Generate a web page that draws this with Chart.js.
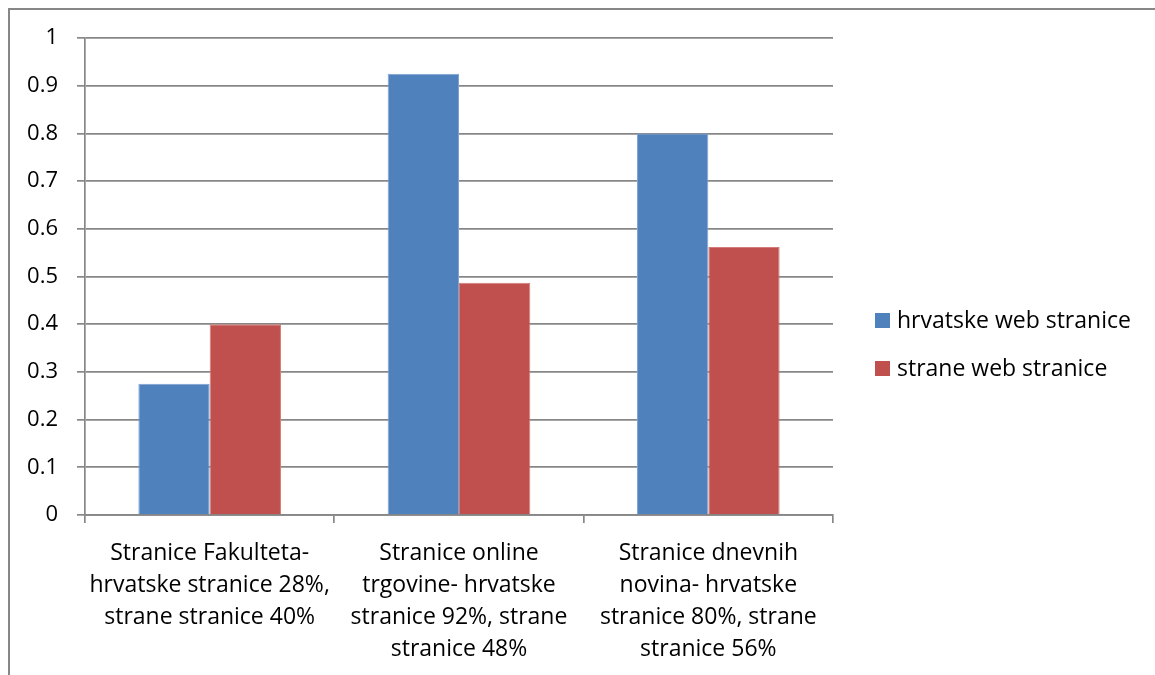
<!DOCTYPE html>
<html>
<head>
<meta charset="utf-8">
<script src="https://cdn.jsdelivr.net/npm/chart.js@4.4.1/dist/chart.umd.min.js"></script>
<style>
  html, body { margin: 0; padding: 0; background: #fff; }
  #wrap { position: relative; width: 1155px; height: 675px; overflow: hidden; }
  #frame { position: absolute; left: 8px; top: 8px; width: 1200px; height: 720px;
           border-left: 2px solid #878787; border-top: 2px solid #878787; box-sizing: border-box; }
  canvas { position: absolute; left: 0; top: 0; }
</style>
</head>
<body>
<div id="wrap">
  <div id="frame"></div>
  <canvas id="c" width="1155" height="675"></canvas>
</div>
<script>
// Categories (multi-line axis labels)
const categories = [
  ['Stranice Fakulteta-', 'hrvatske stranice 28%,', 'strane stranice 40%'],
  ['Stranice online', 'trgovine- hrvatske', 'stranice 92%, strane', 'stranice 48%'],
  ['Stranice dnevnih', 'novina- hrvatske', 'stranice 80%, strane', 'stranice 56%']
];
const seriesNames = ['hrvatske web stranice', 'strane web stranice'];
const hrvatskeValues = [0.275, 0.925, 0.8];
const straneValues = [0.4, 0.487, 0.562];
const yTickLabels = ['0', '0.1', '0.2', '0.3', '0.4', '0.5', '0.6', '0.7', '0.8', '0.9', '1'];

const FONT = '"Open Sans", Lato, sans-serif';
const LABEL_SIZE = 23;
const Y_SIZE = 22;
const AXIS_GRAY = '#878787';

// Legend drawn to the right of the plot
const sideLegend = {
  id: 'sideLegend',
  afterDraw(chart) {
    const ctx = chart.ctx;
    ctx.save();
    ctx.font = LABEL_SIZE + 'px ' + FONT;
    ctx.textBaseline = 'middle';
    ctx.textAlign = 'left';
    chart.data.datasets.forEach((ds, i) => {
      const y = 320.5 + i * 48;
      ctx.fillStyle = ds.backgroundColor;
      ctx.fillRect(875, y - 7.5, 15, 15);
      ctx.fillStyle = '#000';
      ctx.fillText(ds.label, 897, y + 1);
    });
    ctx.restore();
  }
};

new Chart(document.getElementById('c'), {
  type: 'bar',
  data: {
    labels: categories,
    datasets: [
      { label: seriesNames[0], data: hrvatskeValues, backgroundColor: '#4F81BD',
        borderColor: '#7FA3D3', borderWidth: 1 },
      { label: seriesNames[1], data: straneValues, backgroundColor: '#C0504D',
        borderColor: '#D47C79', borderWidth: 1 }
    ]
  },
  options: {
    responsive: false,
    animation: false,
    devicePixelRatio: 1,
    layout: { padding: { left: 0, top: 38, right: 322, bottom: 0 } },
    plugins: { legend: { display: false }, tooltip: { enabled: false } },
    datasets: { bar: { barPercentage: 1, categoryPercentage: 0.572 } },
    scales: {
      x: {
        offset: true,
        grid: { offset: true, drawOnChartArea: false, drawTicks: true, tickLength: 8,
                color: AXIS_GRAY, lineWidth: 1.7 },
        border: { display: true, color: AXIS_GRAY, width: 1.7 },
        ticks: { color: '#000', font: { family: FONT, size: LABEL_SIZE, lineHeight: 1.38 },
                 padding: 15, maxRotation: 0, autoSkip: false },
        afterFit(scale) { scale.height = 160; }
      },
      y: {
        min: 0, max: 1,
        grid: { color: AXIS_GRAY, lineWidth: 1.7, tickLength: 8, drawTicks: true },
        border: { display: true, color: AXIS_GRAY, width: 1.7 },
        ticks: { stepSize: 0.1, color: '#000', font: { family: FONT, size: Y_SIZE }, padding: 19,
                 callback: (v, i) => yTickLabels[i] },
        afterFit(scale) { scale.width = 85; }
      }
    }
  },
  plugins: [sideLegend]
});
</script>
</body>
</html>
